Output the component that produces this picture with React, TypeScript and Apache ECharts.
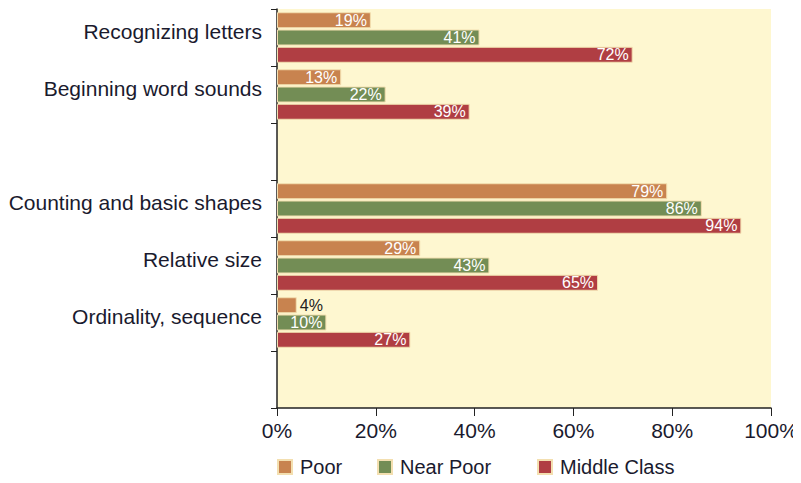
import React, { useEffect, useRef } from "react";
import * as echarts from "echarts";

const categories = [
  "Recognizing letters",
  "Beginning word sounds",
  "",
  "Counting and basic shapes",
  "Relative size",
  "Ordinality, sequence",
  " ",
];
const poor = [19, 13, null, 79, 29, 4, null];
const nearPoor = [41, 22, null, 86, 43, 10, null];
const middleClass = [72, 39, null, 94, 65, 27, null];
const seriesNames = ["Poor", "Near Poor", "Middle Class"];
const xTicks = [0, 20, 40, 60, 80, 100];

const FONT = "'Liberation Sans', Arial, sans-serif";

export default function App() {
  const ref = useRef<HTMLDivElement>(null);
  useEffect(() => {
    if (!ref.current) return;
    const chart = echarts.init(ref.current, null, { renderer: "svg" });
    const colors = ["#c8834f", "#738d55", "#b03e43"];
    const datas = [poor, nearPoor, middleClass];
    const legendLefts = [272, 372, 532];
    chart.setOption({
      animation: false,
      backgroundColor: "#ffffff",
      textStyle: { fontFamily: FONT },
      grid: { left: 277, right: 30, top: 9, bottom: 75, backgroundColor: "#fef7d0", show: true, borderWidth: 0 },
      legend: seriesNames.map((n, i) => ({
        bottom: 1,
        left: legendLefts[i],
        itemWidth: 14,
        itemHeight: 14,
        icon: "rect",
        textStyle: { fontSize: 20, color: "#1a1a2e", fontFamily: FONT, padding: [0, 0, 0, 3] },
        data: [n],
      })),
      xAxis: {
        type: "value",
        min: 0,
        max: 100,
        interval: 20,
        axisLine: { show: true, lineStyle: { color: "#222", width: 1.5 } },
        axisTick: { show: true, length: 8, lineStyle: { color: "#222" } },
        splitLine: { show: false },
        axisLabel: {
          formatter: (v: number) => (xTicks.includes(v) ? v + "%" : ""),
          fontSize: 21,
          color: "#1a1a2e",
          margin: 12,
          fontFamily: FONT,
        },
      },
      yAxis: {
        type: "category",
        inverse: true,
        data: categories,
        axisLine: { show: true, lineStyle: { color: "#222", width: 1.5 } },
        axisTick: { show: true, length: 6, inside: false, lineStyle: { color: "#222" } },
        axisLabel: {
          fontSize: 21,
          color: "#1a1a2e",
          margin: 15,
          fontFamily: FONT,
          verticalAlign: "bottom",
          lineHeight: 13,
        },
      },
      series: datas.map((d, i) => ({
        name: seriesNames[i],
        type: "bar",
        data: d.map((v) =>
          v !== null && v < 8
            ? { value: v, label: { position: "right", color: "#222", distance: 3 } }
            : v
        ),
        barWidth: 16,
        barGap: "8%",
        itemStyle: { color: colors[i], borderColor: "#f3dfb0", borderWidth: 1 },
        label: {
          show: true,
          position: "insideRight",
          distance: 4,
          color: "#ffffff",
          fontSize: 16,
          fontFamily: FONT,
          formatter: (p: any) => p.value + "%",
        },
      })),
      graphic: [
        { type: "rect", left: 0, top: 0, shape: { width: 6, height: 18 }, style: { fill: "#6c4f8e" } },
      ],
    });
    return () => chart.dispose();
  }, []);
  return <div ref={ref} style={{ width: 801, height: 483, margin: -8 }} />;
}
